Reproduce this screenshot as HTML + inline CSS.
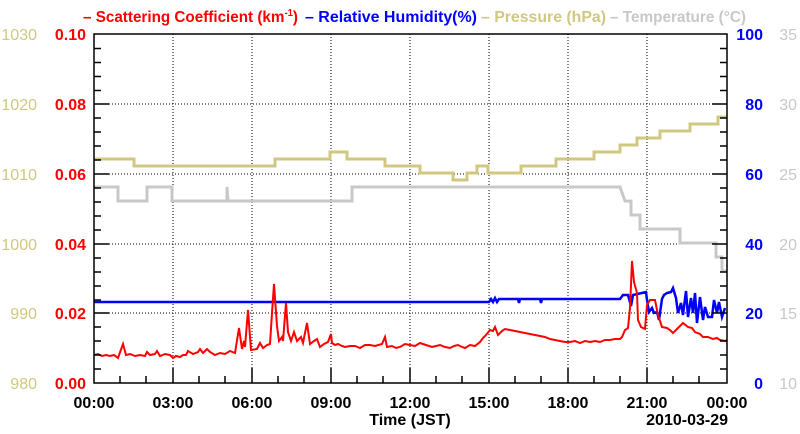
<!DOCTYPE html>
<html><head><meta charset="utf-8"><style>
html,body{margin:0;padding:0;background:#fff;width:800px;height:434px;overflow:hidden}
text{font-family:"Liberation Sans",sans-serif}
</style></head><body>
<svg width="800" height="434" xmlns="http://www.w3.org/2000/svg">
<g font-size="16" font-weight="bold">
<text x="83" y="22" fill="#f00" textLength="215" lengthAdjust="spacingAndGlyphs">– Scattering Coefficient (km<tspan font-size="10" dy="-6">-1</tspan><tspan dy="6">)</tspan></text>
<text x="305" y="22" fill="#00f" textLength="172" lengthAdjust="spacingAndGlyphs">– Relative Humidity(%)</text>
<text x="481" y="22" fill="#d0c880" textLength="125" lengthAdjust="spacingAndGlyphs">– Pressure (hPa)</text>
<text x="610" y="22" fill="#c8c8c8" textLength="136" lengthAdjust="spacingAndGlyphs">– Temperature (°C)</text>
</g>
<g stroke="#000" stroke-width="1" stroke-dasharray="1,2">
<line x1="173" y1="34" x2="173" y2="383"/><line x1="252" y1="34" x2="252" y2="383"/><line x1="331" y1="34" x2="331" y2="383"/><line x1="410" y1="34" x2="410" y2="383"/><line x1="489" y1="34" x2="489" y2="383"/><line x1="568" y1="34" x2="568" y2="383"/><line x1="647" y1="34" x2="647" y2="383"/>
<line x1="94" y1="104" x2="727" y2="104"/><line x1="94" y1="174" x2="727" y2="174"/><line x1="94" y1="244" x2="727" y2="244"/><line x1="94" y1="313" x2="727" y2="313"/>
</g>
<polyline fill="none" stroke="#d0c880" stroke-width="3" points="94,159 134,159 134,166 275,166 275,159 330,159 330,152 340,152 340,152 347,152 347,159 385,159 385,166 420,166 420,173 453,173 453,180 467,180 467,173 477,173 477,166 488,166 488,173 521,173 521,166 556,166 556,159 594,159 594,152 620,152 620,145 637,145 637,138 660,138 660,131 690,131 690,124 718,124 718,117 727,117"/>
<polyline fill="none" stroke="#c8c8c8" stroke-width="3" points="94,187 118,187 118,201 147,201 147,187 172,187 172,201 227,201 227,187 228,201 352,201 352,187 620,187 625,201 631,201 631,215 640,215 640,229 680,229 680,243 716,243 716,257 722,257 722,271 727,271"/>
<polyline fill="none" stroke="#00f" stroke-width="2.5" points="94,302 489,302 491,299 493,302 495,298 497,302 499,299 518,299 519,303 520,299 540,299 541,303 542,299 620,299 623,295 628,295 631,306 633,295 646,292 647,300 649,312 652,308 654,313 657,312 659,320 662,299 664,295 667,293 671,292 673,288 676,298 678,313 681,303 683,315 686,291 688,317 691,298 693,313 695,293 697,323 700,297 703,320 705,307 708,317 712,317 714,300 717,313 719,302 722,317 725,308"/>
<polyline fill="none" stroke="#f00" stroke-width="2" points="94,355 98,354 102,356 106,355 110,356 114,355 118,358 123,344 126,355 130,354 135,356 140,355 145,356 147,352 150,355 155,354 157,351 160,356 165,354 170,355 173,358 176,356 180,357 183,355 186,355 188,351 193,354 198,352 200,349 203,353 207,349 210,352 215,355 220,353 225,354 230,351 235,353 239,328 242,349 244,341 245,347 248,310 251,350 257,349 260,343 263,348 267,345 270,344 272,313 274,284 277,326 279,341 282,337 283,341 286,303 288,332 291,341 294,332 297,341 301,337 303,343 307,323 310,344 314,341 317,339 320,347 324,344 328,342 331,334 332,343 335,345 338,344 342,346 345,347 350,346 355,346 360,348 365,345 370,345 375,346 382,344 385,337 387,347 392,346 396,348 400,347 405,344 410,345 415,346 420,343 426,345 432,347 436,346 440,345 445,347 450,348 454,346 458,345 462,347 465,348 470,345 475,346 480,342 483,338 486,335 490,330 493,331 495,327 498,335 502,331 505,329 510,330 515,331 520,332 525,333 530,334 535,335 540,336 545,337 550,339 555,340 560,341 565,342 570,342 575,341 580,343 585,341 590,342 595,341 600,342 605,340 610,340 615,339 620,339 622,337 625,330 628,328 630,308 632,261 634,282 637,293 638,320 641,327 645,329 647,305 650,300 655,300 658,315 662,327 667,328 670,330 673,333 678,328 683,323 688,327 692,328 695,332 700,334 703,337 708,337 713,339 717,338 720,340 725,341 727,340"/>
<rect x="94" y="34" width="633" height="349" fill="none" stroke="#000" stroke-width="1.5"/>
<g stroke="#000" stroke-width="1.5">
<path d="M94,48.5h7M94,62.5h7M94,76.5h7M94,90.5h7M94,118h7M94,132h7M94,146h7M94,160h7M94,188h7M94,202h7M94,216h7M94,230h7M94,258h7M94,272h7M94,286h7M94,300h7M94,327h7M94,341h7M94,355h7M94,369h7"/>
<path d="M94,104h15M94,174h15M94,244h15M94,313h15"/>
<path d="M727,48.5h-7M727,62.5h-7M727,76.5h-7M727,90.5h-7M727,118h-7M727,132h-7M727,146h-7M727,160h-7M727,188h-7M727,202h-7M727,216h-7M727,230h-7M727,258h-7M727,272h-7M727,286h-7M727,300h-7M727,327h-7M727,341h-7M727,355h-7M727,369h-7"/>
<path d="M727,104h-15M727,174h-15M727,244h-15M727,313h-15"/>
<path d="M120,383v-7M146,383v-7M199,383v-7M225,383v-7M278,383v-7M304,383v-7M357,383v-7M383,383v-7M436,383v-7M462,383v-7M515,383v-7M541,383v-7M594,383v-7M620,383v-7M673,383v-7M699,383v-7"/>
<path d="M173,383v-15M252,383v-15M331,383v-15M410,383v-15M489,383v-15M568,383v-15M647,383v-15"/>
</g>
<g font-size="16" font-weight="bold" fill="#f00" text-anchor="end">
<text x="86" y="40">0.10</text><text x="86" y="110">0.08</text><text x="86" y="180">0.06</text><text x="86" y="250">0.04</text><text x="86" y="319">0.02</text><text x="86" y="389">0.00</text>
</g>
<g font-size="16" fill="#d0c880" text-anchor="end">
<text x="37" y="40">1030</text><text x="37" y="110">1020</text><text x="37" y="180">1010</text><text x="37" y="250">1000</text><text x="37" y="319">990</text><text x="37" y="389">980</text>
</g>
<g font-size="16" font-weight="bold" fill="#00f" text-anchor="end">
<text x="763" y="40">100</text><text x="763" y="110">80</text><text x="763" y="180">60</text><text x="763" y="250">40</text><text x="763" y="319">20</text><text x="763" y="389">0</text>
</g>
<g font-size="16" fill="#c8c8c8" text-anchor="end">
<text x="797" y="40">35</text><text x="797" y="110">30</text><text x="797" y="180">25</text><text x="797" y="250">20</text><text x="797" y="319">15</text><text x="797" y="389">10</text>
</g>
<g font-size="16" font-weight="bold" fill="#000" text-anchor="middle">
<text x="94" y="408">00:00</text><text x="173" y="408">03:00</text><text x="252" y="408">06:00</text><text x="331" y="408">09:00</text><text x="410" y="408">12:00</text><text x="489" y="408">15:00</text><text x="568" y="408">18:00</text><text x="647" y="408">21:00</text><text x="727" y="408">00:00</text>
<text x="410" y="425">Time (JST)</text>
<text x="728" y="425" text-anchor="end">2010-03-29</text>
</g>
</svg>
</body></html>
